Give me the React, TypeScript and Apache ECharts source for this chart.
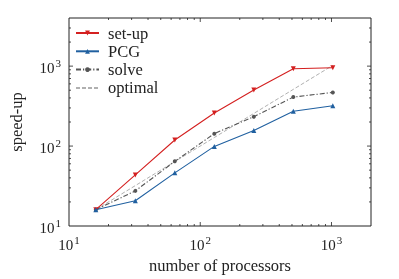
import React, { useEffect, useRef } from "react";
import * as echarts from "echarts";

const processors = [16, 32, 64, 128, 256, 512, 1024];
const setupSpeedup = [16, 43.5, 119, 259, 503, 927, 953];
const pcgSpeedup = [16, 20.7, 46.2, 99, 157, 273, 320];
const solveSpeedup = [16, 27.5, 64.4, 143, 233, 410, 469];
const optimalSpeedup = [16, 32, 64, 128, 256, 512, 1024];

const xMinorTicks = [20, 30, 40, 50, 60, 70, 80, 90, 200, 300, 400, 500, 600, 700, 800, 900];
const xMajorTicks = [100, 1000];
const yMinorTicks = [20, 30, 40, 50, 60, 70, 80, 90, 200, 300, 400, 500, 600, 700, 800, 900, 2000, 3000];
const yMajorTicks = [100, 1000];

const X_MIN = 10;
const X_MAX = 2000;
const Y_MIN = 10;
const Y_MAX = 4000;

const FONT = '"Liberation Serif", "Times New Roman", serif';

function powLabel(v: number): string {
  const e = Math.log10(v);
  const r = Math.round(e);
  if (Math.abs(e - r) > 1e-6) return "";
  return "{b|10}{s|" + r + "}";
}

const labelRich = {
  b: { fontFamily: FONT, fontSize: 15, lineHeight: 18, color: "#222", verticalAlign: "bottom" },
  s: { fontFamily: FONT, fontSize: 11, lineHeight: 11, color: "#222", verticalAlign: "bottom", padding: [0, 0, 7, 1] },
};

function zip(xs: number[], ys: number[]) {
  return xs.map((x, i) => [x, ys[i]]);
}

const downTri = "path://M0,0 L10,0 L5,9 Z";

export default function App() {
  const ref = useRef<HTMLDivElement>(null);
  useEffect(() => {
    if (!ref.current) return;
    const chart = echarts.init(ref.current, undefined, { renderer: "svg" });

    const xTickData = [
      ...xMinorTicks.map((v) => [v, Y_MIN, 2]),
      ...xMajorTicks.map((v) => [v, Y_MIN, 4]),
    ];
    const yTickData = [
      ...yMinorTicks.map((v) => [X_MIN, v, 2]),
      ...yMajorTicks.map((v) => [X_MIN, v, 4]),
    ];
    const tickStyle = { stroke: "#222", lineWidth: 0.8 };

    chart.setOption({
      animation: false,
      grid: {
        left: 57,
        right: 28,
        top: 18,
        bottom: 50,
        show: true,
        borderColor: "#222",
        borderWidth: 1,
        backgroundColor: "transparent",
      },
      legend: {
        data: [
          { name: "set-up" },
          { name: "PCG" },
          { name: "solve" },
          { name: "optimal", itemStyle: { opacity: 0 } },
        ],
        orient: "vertical",
        left: 70,
        top: 19.5,
        itemWidth: 23,
        itemHeight: 6,
        itemGap: 1.3,
        textStyle: { fontFamily: FONT, fontSize: 16.5, color: "#222", lineHeight: 17, padding: [0, 0, 0, 4] },
      },
      xAxis: {
        type: "log",
        logBase: 10,
        min: X_MIN,
        max: X_MAX,
        name: "number of processors",
        nameLocation: "middle",
        nameGap: 31,
        nameTextStyle: { fontFamily: FONT, fontSize: 16.5, color: "#222" },
        axisLine: { show: false },
        axisTick: { show: false },
        splitLine: { show: false },
        minorTick: { show: false },
        axisLabel: {
          formatter: (v: number) => powLabel(v),
          rich: labelRich,
          margin: 8,
          showMaxLabel: false,
        },
      },
      yAxis: {
        type: "log",
        logBase: 10,
        min: Y_MIN,
        max: Y_MAX,
        name: "speed-up",
        nameLocation: "middle",
        nameGap: 44,
        nameTextStyle: { fontFamily: FONT, fontSize: 16.5, color: "#222" },
        axisLine: { show: false },
        axisTick: { show: false },
        splitLine: { show: false },
        minorTick: { show: false },
        axisLabel: {
          formatter: (v: number) => powLabel(v),
          rich: labelRich,
          margin: 8,
          showMaxLabel: false,
        },
      },
      series: [
        {
          name: "set-up",
          type: "line",
          data: zip(processors, setupSpeedup),
          symbol: downTri,
          symbolSize: [5, 5],
          color: "#d42020",
          lineStyle: { width: 1.1, color: "#d42020" },
          itemStyle: { color: "#d42020" },
          z: 5,
        },
        {
          name: "PCG",
          type: "line",
          data: zip(processors, pcgSpeedup),
          symbol: "triangle",
          symbolSize: [5, 5],
          color: "#2060a0",
          lineStyle: { width: 1.1, color: "#2060a0" },
          itemStyle: { color: "#2060a0" },
          z: 5,
        },
        {
          name: "solve",
          type: "line",
          data: zip(processors, solveSpeedup),
          symbol: "circle",
          symbolSize: 4,
          color: "#555555",
          lineStyle: { width: 1.1, color: "#555555", type: [5, 2, 1.2, 2] },
          itemStyle: { color: "#555555" },
          z: 4,
        },
        {
          name: "optimal",
          type: "line",
          data: zip(processors, optimalSpeedup),
          symbol: "none",
          color: "#b0b0b0",
          lineStyle: { width: 1, color: "#b0b0b0", type: [4, 2] },
          z: 3,
        },
        {
          type: "custom",
          silent: true,
          data: xTickData,
          renderItem: (params: any, api: any) => {
            const p = api.coord([api.value(0), api.value(1)]);
            const cs = params.coordSys;
            const len = api.value(2);
            const top = cs.y;
            const bottom = cs.y + cs.height;
            return {
              type: "group",
              children: [
                { type: "line", shape: { x1: p[0], y1: bottom, x2: p[0], y2: bottom - len }, style: tickStyle },
                { type: "line", shape: { x1: p[0], y1: top, x2: p[0], y2: top + len }, style: tickStyle },
              ],
            };
          },
          z: 2,
        },
        {
          type: "custom",
          silent: true,
          data: yTickData,
          renderItem: (params: any, api: any) => {
            const p = api.coord([api.value(0), api.value(1)]);
            const cs = params.coordSys;
            const len = api.value(2);
            const left = cs.x;
            const right = cs.x + cs.width;
            return {
              type: "group",
              children: [
                { type: "line", shape: { x1: left, y1: p[1], x2: left + len, y2: p[1] }, style: tickStyle },
                { type: "line", shape: { x1: right, y1: p[1], x2: right - len, y2: p[1] }, style: tickStyle },
              ],
            };
          },
          z: 2,
        },
      ],
    });
    return () => chart.dispose();
  }, []);
  return <div ref={ref} style={{ position: "fixed", left: 0, top: 0, width: 399, height: 279 }} />;
}
